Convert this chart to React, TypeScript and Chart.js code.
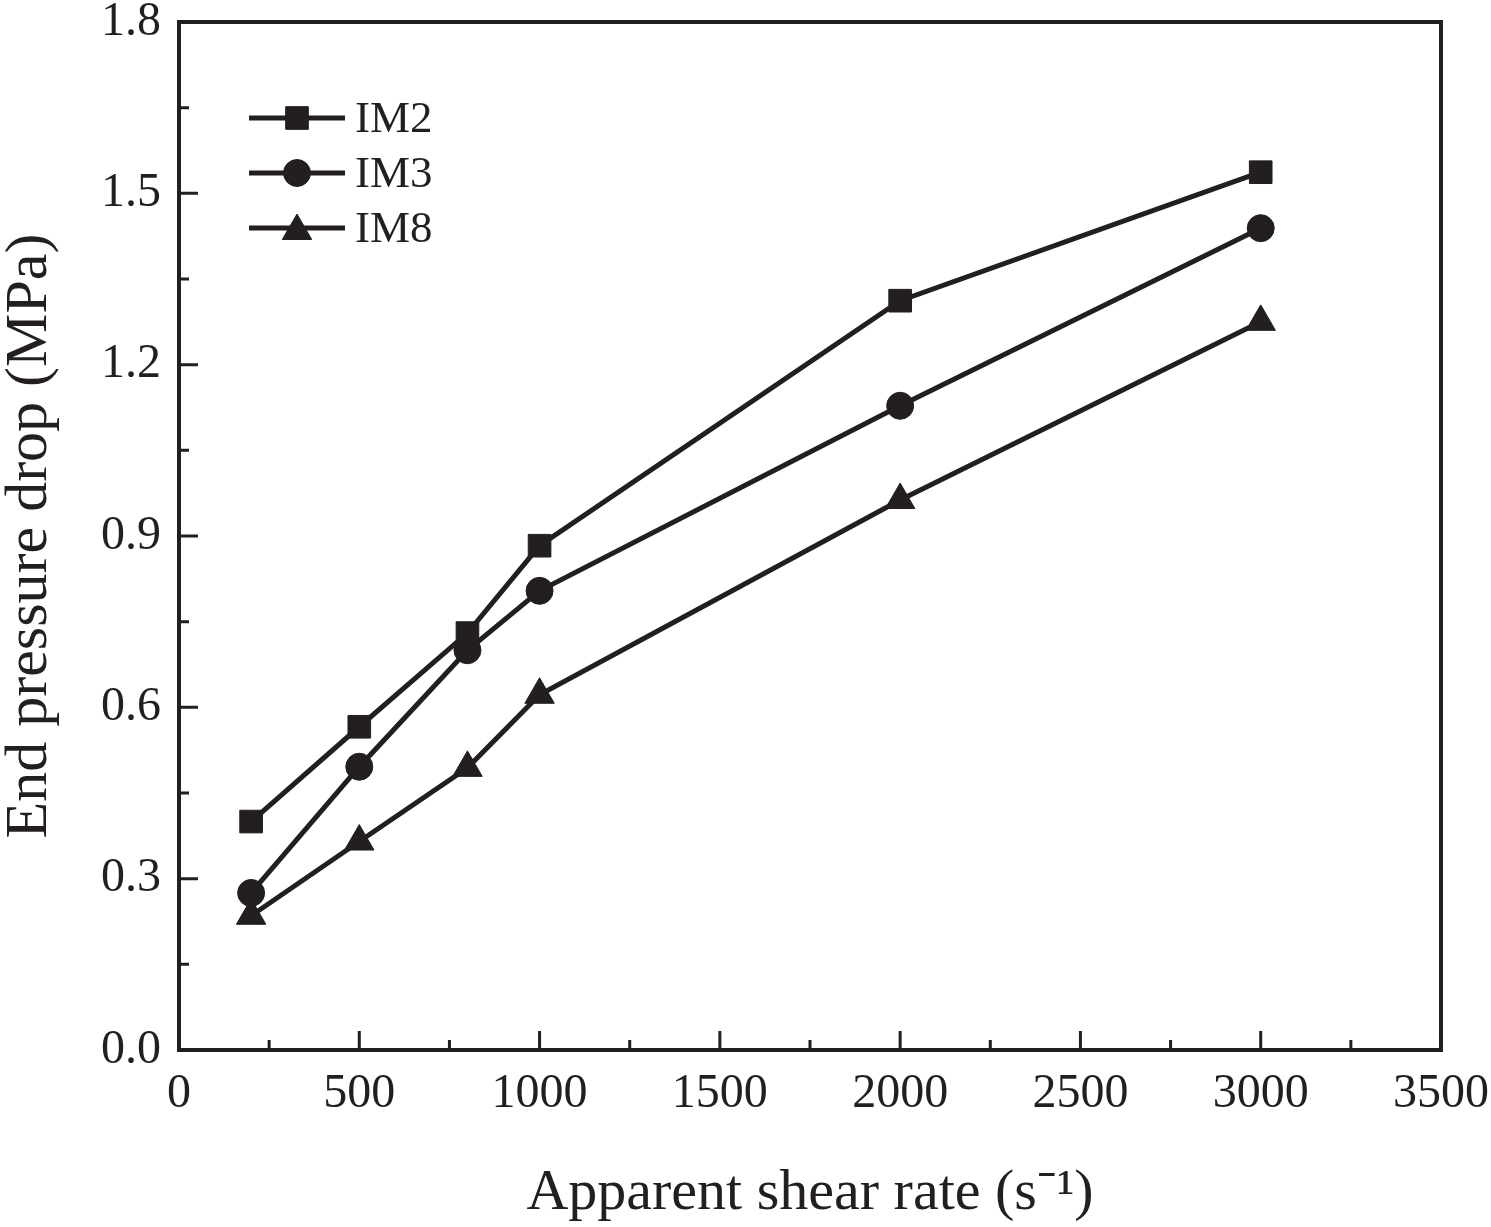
import { useEffect, useRef } from 'react';
import Chart from 'chart.js/auto';
import { drawPoint } from 'chart.js/helpers';

const INK = '#231f20';
const FONT = "'Liberation Serif', 'Times New Roman', serif";

// Apparent shear rate (s^-1)
const shearRates = [200, 500, 800, 1000, 2000, 3000];
// End pressure drop (MPa)
const im2 = [0.4, 0.566, 0.73, 0.883, 1.312, 1.537];
const im3 = [0.275, 0.496, 0.7, 0.804, 1.128, 1.439];
const im8 = [0.235, 0.365, 0.494, 0.622, 0.963, 1.275];

const seriesLabels = ['IM2', 'IM3', 'IM8'];
const xTitle = 'Apparent shear rate (s\u207B\u00B9)';
const yTitle = 'End pressure drop (MPa)';

// frame + inward ticks (major and minor)
const framePlugin = {
  id: 'frame',
  afterDraw(chart: any) {
    const { ctx, chartArea: a, scales } = chart;
    ctx.save();
    ctx.strokeStyle = INK;
    ctx.lineWidth = 4;
    ctx.strokeRect(a.left, a.top, a.right - a.left, a.bottom - a.top);
    ctx.lineWidth = 3;
    const x = scales.x;
    const y = scales.y;
    const xt = x.ticks.map((t: any) => t.value);
    const yt = y.ticks.map((t: any) => t.value);
    ctx.beginPath();
    xt.forEach((v: number, i: number) => {
      const px = x.getPixelForValue(v);
      ctx.moveTo(px, a.bottom);
      ctx.lineTo(px, a.bottom - 19);
      if (i < xt.length - 1) {
        const mx = x.getPixelForValue((v + xt[i + 1]) / 2);
        ctx.moveTo(mx, a.bottom);
        ctx.lineTo(mx, a.bottom - 10);
      }
    });
    yt.forEach((v: number, i: number) => {
      const py = y.getPixelForValue(v);
      ctx.moveTo(a.left, py);
      ctx.lineTo(a.left + 19, py);
      if (i < yt.length - 1) {
        const my = y.getPixelForValue((v + yt[i + 1]) / 2);
        ctx.moveTo(a.left, my);
        ctx.lineTo(a.left + 10, my);
      }
    });
    ctx.stroke();
    ctx.restore();
  },
};

// legend drawn inside the plot, upper left
const legendPlugin = {
  id: 'insideLegend',
  afterDatasetsDraw(chart: any) {
    const { ctx, chartArea: a } = chart;
    ctx.save();
    chart.data.datasets.forEach((ds: any, i: number) => {
      const ly = a.top + 96 + i * 55;
      const x0 = a.left + 70;
      const x1 = x0 + 96;
      ctx.strokeStyle = INK;
      ctx.fillStyle = INK;
      ctx.lineWidth = 5;
      ctx.beginPath();
      ctx.moveTo(x0, ly);
      ctx.lineTo(x1, ly);
      ctx.stroke();
      ctx.lineWidth = 1;
      drawPoint(ctx, { pointStyle: ds.pointStyle, radius: ds.pointRadius, borderWidth: 1, rotation: 0 } as any, (x0 + x1) / 2, ly + (ds.pointStyle === 'triangle' ? 3 : 0));
      ctx.font = `45px ${FONT}`;
      ctx.textBaseline = 'middle';
      ctx.textAlign = 'left';
      ctx.fillText(ds.label, x1 + 10, ly + 2);
    });
    ctx.restore();
  },
};

const noEdgePadding = (s: any) => {
  s.paddingTop = 0;
  s.paddingBottom = 0;
  s.paddingLeft = 0;
  s.paddingRight = 0;
};

export default function App() {
  const canvasRef = useRef<HTMLCanvasElement>(null);

  useEffect(() => {
    if (!canvasRef.current) return;
    const ctx = canvasRef.current.getContext('2d');
    if (!ctx) return;

    const makeSet = (label: string, values: number[], style: string, r: number) => ({
      label,
      data: shearRates.map((x, i) => ({ x, y: values[i] })),
      borderColor: INK,
      backgroundColor: INK,
      borderWidth: 5,
      pointStyle: style,
      pointRadius: r,
      pointBorderWidth: 1,
      pointBackgroundColor: INK,
      pointBorderColor: INK,
      tension: 0,
    });

    const chart = new Chart(ctx, {
      type: 'line',
      data: {
        datasets: [
          makeSet(seriesLabels[0], im2, 'rect', 16),
          makeSet(seriesLabels[1], im3, 'circle', 13.5),
          makeSet(seriesLabels[2], im8, 'triangle', 17),
        ],
      },
      options: {
        responsive: true,
        maintainAspectRatio: false,
        animation: false,
        layout: { padding: { top: 22, right: 50, left: 0, bottom: 0 } },
        plugins: {
          legend: { display: false },
          tooltip: { enabled: false },
        },
        scales: {
          x: {
            type: 'linear',
            min: 0,
            max: 3500,
            border: { display: false },
            grid: { display: false, drawTicks: false },
            ticks: {
              stepSize: 500,
              padding: 16,
              color: INK,
              maxRotation: 0,
              font: { family: FONT, size: 48 },
              callback: (v: any) => String(v),
            },
            title: {
              display: true,
              text: xTitle,
              color: INK,
              padding: { top: 0, bottom: 4 },
              font: { family: FONT, size: 58, lineHeight: 1 },
            },
            afterFit: (s: any) => {
              s.height = 1227 - 1050;
              noEdgePadding(s);
            },
          },
          y: {
            type: 'linear',
            min: 0,
            max: 1.8,
            border: { display: false },
            grid: { display: false, drawTicks: false },
            ticks: {
              stepSize: 0.3,
              padding: 18,
              color: INK,
              font: { family: FONT, size: 48 },
              callback: (v: any) => Number(v).toFixed(1),
            },
            title: {
              display: true,
              text: yTitle,
              color: INK,
              padding: { top: 0, bottom: 0 },
              font: { family: FONT, size: 60, lineHeight: 1 },
            },
            afterFit: (s: any) => {
              s.width = 179;
              noEdgePadding(s);
            },
          },
        },
      },
      plugins: [framePlugin, legendPlugin],
    });

    return () => {
      chart.destroy();
    };
  }, []);

  return (
    <div style={{ position: 'fixed', left: 0, top: 0, width: '1491px', height: '1227px', background: '#fff' }}>
      <canvas ref={canvasRef} />
    </div>
  );
}
